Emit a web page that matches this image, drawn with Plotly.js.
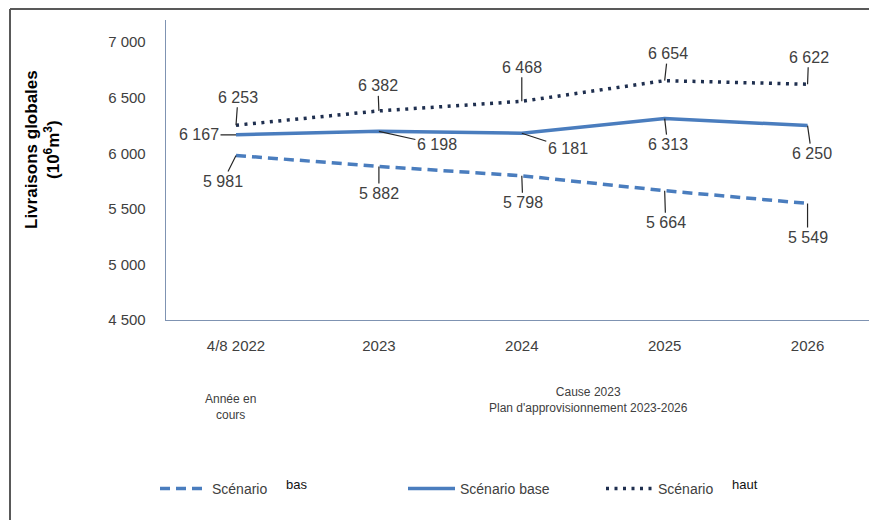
<!DOCTYPE html>
<html>
<head>
<meta charset="utf-8">
<script src="https://cdn.plot.ly/plotly-3.0.1.min.js"></script>
<style>html,body{margin:0;padding:0;background:#fff;}#chart{width:869px;height:520px;}</style>
</head>
<body>
<div id="chart"></div>
<script>
// ---- data ----
const categories = ["4/8 2022", "2023", "2024", "2025", "2026"];
const scenarioBas = [5981, 5882, 5798, 5664, 5549];
const scenarioBase = [6167, 6198, 6181, 6313, 6250];
const scenarioHaut = [6253, 6382, 6468, 6654, 6622];
const yTicks = [4500, 5000, 5500, 6000, 6500, 7000];

// label offsets (px) for data labels
const offBas = [[-13, 26], [0, 27], [1, 27], [1, 32], [0, 34]];
const offBase = [[-37, 0], [58, 13], [46, 15], [3, 26], [4, 28]];
const offHaut = [[2, -28], [-1, -25], [0, -34], [3, -27], [1, -27]];

function fmt(v) { return String(v).replace(/\B(?=(\d{3})+(?!\d))/g, " "); }

const blue = "#4a7dbe";
const navy = "#1f2f4f";
const txt = "#404040";
const FONT = "Liberation Sans, Arial, sans-serif";

const plotL = 166, plotR = 869, plotT = 20, plotB = 320;
const pw = plotR - plotL, ph = plotB - plotT;
function px2x(px) { return (px - plotL) / pw; }
function px2y(py) { return (plotB - py) / ph; }

const traces = [
  { x: categories, y: scenarioBas, type: "scatter", mode: "lines", name: "Scénario",
    line: { color: blue, width: 3.5, dash: "10px,6px" }, legend: "legend" },
  { x: categories, y: scenarioBase, type: "scatter", mode: "lines", name: "Scénario base",
    line: { color: blue, width: 3.5 }, legend: "legend2" },
  { x: categories, y: scenarioHaut, type: "scatter", mode: "lines", name: "Scénario",
    line: { color: navy, width: 3.5, dash: "3px,5.5px" }, legend: "legend3" }
];

const annotations = [];
function addLabels(vals, offs) {
  vals.forEach((v, i) => {
    annotations.push({
      x: i, y: v, xref: "x", yref: "y",
      text: fmt(v), showarrow: true, arrowhead: 0, arrowwidth: 1.2, arrowcolor: "#262626",
      ax: offs[i][0], ay: offs[i][1], standoff: 0,
      font: { family: FONT, size: 16, color: txt }
    });
  });
}
addLabels(scenarioBas, offBas);
addLabels(scenarioBase, offBase);
addLabels(scenarioHaut, offHaut);

annotations.push({
  xref: "paper", yref: "paper", x: px2x(42), y: px2y(149), showarrow: false,
  text: "<b>Livraisons globales</b><br><b>(10<sup>6</sup>m<sup>3</sup>)</b>", textangle: -90,
  font: { family: FONT, size: 17, color: "#000" }, xanchor: "center", yanchor: "middle"
});
annotations.push({
  xref: "paper", yref: "paper", x: px2x(230), y: px2y(407), showarrow: false,
  text: "Année en<br>cours", font: { family: FONT, size: 12, color: txt },
  xanchor: "center", yanchor: "middle"
});
annotations.push({
  xref: "paper", yref: "paper", x: px2x(588), y: px2y(400), showarrow: false,
  text: "Cause 2023<br>Plan d'approvisionnement 2023-2026", font: { family: FONT, size: 12, color: txt },
  xanchor: "center", yanchor: "middle"
});
annotations.push({
  xref: "paper", yref: "paper", x: px2x(296), y: px2y(484), showarrow: false,
  text: "bas", font: { family: FONT, size: 13, color: "#111" }, xanchor: "center", yanchor: "middle"
});
annotations.push({
  xref: "paper", yref: "paper", x: px2x(745), y: px2y(484), showarrow: false,
  text: "haut", font: { family: FONT, size: 13, color: "#111" }, xanchor: "center", yanchor: "middle"
});

const legFont = { family: FONT, size: 14, color: txt };
function leg(xpx) {
  return { xref: "container", yref: "container", x: xpx / 869, y: 1 - 489 / 520,
    xanchor: "left", yanchor: "middle", orientation: "h", font: legFont,
    bgcolor: "rgba(0,0,0,0)", itemwidth: 47 };
}

const layout = {
  width: 869, height: 520,
  margin: { l: plotL, r: 869 - plotR, t: plotT, b: 520 - plotB, pad: 0 },
  paper_bgcolor: "#fff", plot_bgcolor: "#fff",
  separators: ", ",
  showlegend: true,
  legend: leg(155), legend2: leg(403), legend3: leg(601),
  xaxis: {
    type: "category", range: [-0.49, 4.43], showline: true, linecolor: "#7f93b2", linewidth: 1.3,
    showgrid: false, zeroline: false, ticks: "", ticklabelstandoff: 12,
    tickfont: { family: FONT, size: 15, color: txt }
  },
  yaxis: {
    range: [4500, 7200], tickvals: yTicks, tickformat: ",d", showline: true, linecolor: "#7f93b2",
    linewidth: 1.3, showgrid: false, zeroline: false, ticks: "", ticklabelstandoff: 16,
    tickfont: { family: FONT, size: 15, color: txt }
  },
  annotations: annotations,
  shapes: [
    { type: "line", xref: "paper", yref: "paper", x0: px2x(10), x1: px2x(10), y0: px2y(9), y1: px2y(530),
      line: { color: "#595959", width: 2 } },
    { type: "line", xref: "paper", yref: "paper", x0: px2x(10), x1: px2x(880), y0: px2y(9), y1: px2y(9),
      line: { color: "#595959", width: 2 } }
  ]
};

Plotly.newPlot("chart", traces, layout, { displayModeBar: false, staticPlot: true });
</script>
</body>
</html>
